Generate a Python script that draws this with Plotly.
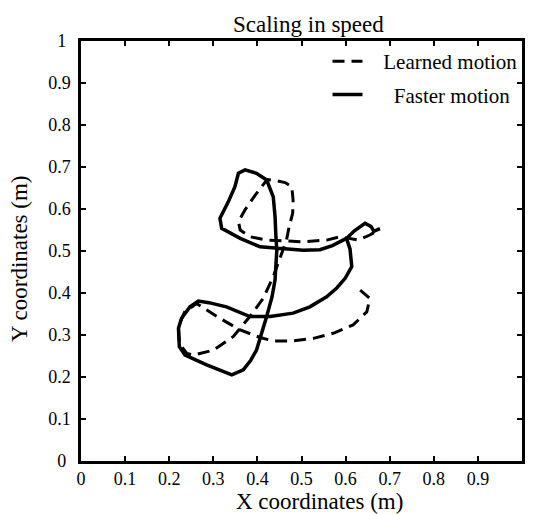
import plotly.graph_objects as go

# Learned motion (dashed)
learned_x = [0.633, 0.655, 0.648, 0.617, 0.572, 0.527, 0.481, 0.436, 0.406, 0.361, 0.308, 0.262,
             0.235, 0.221, 0.223, 0.240, 0.255, 0.300, 0.345, 0.383, 0.413, 0.436, 0.455, 0.466,
             0.472, 0.480, 0.481, 0.478, 0.463, 0.440, 0.422, 0.405, 0.395, 0.372, 0.357, 0.361,
             0.383, 0.421, 0.504, 0.557, 0.587, 0.629, 0.655, 0.674]
learned_y = [0.407, 0.387, 0.355, 0.324, 0.304, 0.292, 0.286, 0.286, 0.294, 0.312, 0.344, 0.375,
             0.355, 0.320, 0.280, 0.256, 0.252, 0.264, 0.296, 0.344, 0.387, 0.439, 0.494, 0.526,
             0.558, 0.590, 0.621, 0.653, 0.663, 0.668, 0.670, 0.648, 0.633, 0.598, 0.570, 0.550,
             0.534, 0.526, 0.522, 0.526, 0.534, 0.526, 0.538, 0.550]

# Faster motion (solid)
faster_x = [0.678, 0.664, 0.658, 0.644, 0.620, 0.602, 0.610, 0.614, 0.599, 0.580, 0.557, 0.519,
            0.481, 0.429, 0.383, 0.330, 0.290, 0.266, 0.247, 0.228, 0.221, 0.223, 0.236, 0.285,
            0.342, 0.368, 0.385, 0.398, 0.421, 0.433, 0.440, 0.444, 0.442, 0.440, 0.436, 0.425,
            0.421, 0.398, 0.372, 0.357, 0.349, 0.334, 0.315, 0.319, 0.361, 0.406, 0.451, 0.504,
            0.542, 0.570, 0.602]
faster_y = [0.553, 0.547, 0.558, 0.566, 0.548, 0.530, 0.505, 0.463, 0.435, 0.412, 0.391, 0.367,
            0.352, 0.344, 0.344, 0.367, 0.377, 0.381, 0.367, 0.340, 0.316, 0.272, 0.252, 0.229,
            0.205, 0.217, 0.240, 0.264, 0.344, 0.390, 0.431, 0.502, 0.534, 0.582, 0.629, 0.660,
            0.669, 0.685, 0.693, 0.685, 0.653, 0.617, 0.578, 0.554, 0.530, 0.510, 0.506, 0.502,
            0.503, 0.513, 0.530]

tick_vals = [0, 0.1, 0.2, 0.3, 0.4, 0.5, 0.6, 0.7, 0.8, 0.9, 1]
x_tick_text = ["0", "0.1", "0.2", "0.3", "0.4", "0.5", "0.6", "0.7", "0.8", "0.9", ""]
y_tick_text = ["0\u2008", "0.1", "0.2", "0.3", "0.4", "0.5", "0.6", "0.7", "0.8", "0.9", "1\u2008"]

FONT = "Liberation Serif"

fig = go.Figure()
fig.add_trace(go.Scatter(x=learned_x, y=learned_y, mode="lines",
                         name="\u00a0\u00a0\u00a0Learned motion",
                         line=dict(color="black", width=3, dash="12px,7px"),
                         legendgroup="a"))
fig.add_trace(go.Scatter(x=faster_x, y=faster_y, mode="lines",
                         name="\u00a0\u00a0\u00a0\u00a0\u00a0Faster motion",
                         line=dict(color="black", width=3.5), legendgroup="b"))

axis_common = dict(range=[0, 1], tickvals=tick_vals, ticks="inside", ticklen=5, tickwidth=2,
                   tickcolor="black", showline=True, linecolor="black", linewidth=2.5,
                   mirror="ticks", showgrid=False, zeroline=False,
                   tickfont=dict(family=FONT, size=18, color="black"))

fig.update_xaxes(**axis_common, ticktext=x_tick_text, ticklabelstandoff=0)
fig.update_yaxes(**axis_common, ticktext=y_tick_text, ticklabelstandoff=4)

fig.update_layout(
    width=534, height=514,
    margin=dict(l=81, r=12, t=41, b=53, autoexpand=False),
    paper_bgcolor="white", plot_bgcolor="white",
    showlegend=True,
    legend=dict(x=0.5590, y=1.0, xanchor="left", yanchor="top", bgcolor="rgba(0,0,0,0)",
                font=dict(family=FONT, size=21, color="black"), tracegroupgap=3,
                itemwidth=30),
    annotations=[
        dict(text="Scaling in speed", xref="paper", yref="paper", x=0.517, y=1, yshift=17,
             showarrow=False, font=dict(family=FONT, size=23, color="black"),
             xanchor="center", yanchor="middle"),
        dict(text="X coordinates (m)", xref="paper", yref="paper", x=0.54, y=0, yshift=-40,
             showarrow=False, font=dict(family=FONT, size=23, color="black"),
             xanchor="center", yanchor="middle"),
        dict(text="Y coordinates (m)", xref="paper", yref="paper", x=0, xshift=-61, y=0.481,
             showarrow=False, textangle=-90, font=dict(family=FONT, size=23, color="black"),
             xanchor="center", yanchor="middle"),
    ],
)

fig.write_html("out.html")
